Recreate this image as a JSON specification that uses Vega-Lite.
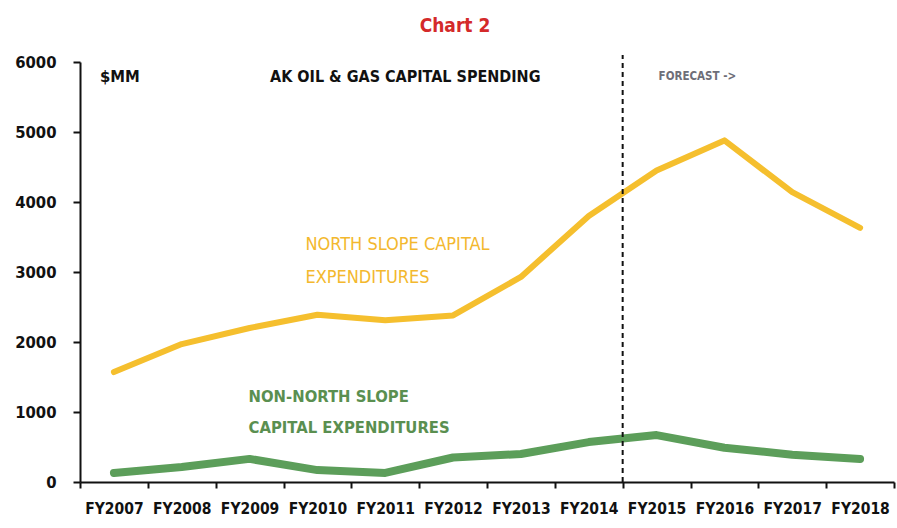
{
  "$schema": "https://vega.github.io/schema/vega-lite/v6.json",
  "width": 814,
  "height": 420,
  "autosize": {"type": "none"},
  "padding": {"left": 80, "top": 62, "right": 3, "bottom": 46},
  "background": "white",
  "title": {
    "text": "Chart 2",
    "color": "#D42A2A",
    "font": "DejaVu Sans Condensed, Roboto Condensed, sans-serif",
    "fontSize": 19,
    "fontWeight": "bold",
    "anchor": "middle",
    "dx": -32,
    "offset": 18
  },
  "config": {
    "view": {"stroke": null},
    "font": "DejaVu Sans Condensed, Roboto Condensed, sans-serif"
  },
  "datasets": {
    "series": [
      {"year": "FY2007", "series": "North Slope", "value": 1570},
      {"year": "FY2008", "series": "North Slope", "value": 1970},
      {"year": "FY2009", "series": "North Slope", "value": 2200},
      {"year": "FY2010", "series": "North Slope", "value": 2390},
      {"year": "FY2011", "series": "North Slope", "value": 2310},
      {"year": "FY2012", "series": "North Slope", "value": 2380},
      {"year": "FY2013", "series": "North Slope", "value": 2930},
      {"year": "FY2014", "series": "North Slope", "value": 3800},
      {"year": "FY2015", "series": "North Slope", "value": 4450},
      {"year": "FY2016", "series": "North Slope", "value": 4880},
      {"year": "FY2017", "series": "North Slope", "value": 4140},
      {"year": "FY2018", "series": "North Slope", "value": 3630},
      {"year": "FY2007", "series": "Non-North Slope", "value": 130},
      {"year": "FY2008", "series": "Non-North Slope", "value": 215},
      {"year": "FY2009", "series": "Non-North Slope", "value": 330},
      {"year": "FY2010", "series": "Non-North Slope", "value": 170},
      {"year": "FY2011", "series": "Non-North Slope", "value": 130},
      {"year": "FY2012", "series": "Non-North Slope", "value": 350},
      {"year": "FY2013", "series": "Non-North Slope", "value": 400},
      {"year": "FY2014", "series": "Non-North Slope", "value": 570},
      {"year": "FY2015", "series": "Non-North Slope", "value": 670},
      {"year": "FY2016", "series": "Non-North Slope", "value": 490},
      {"year": "FY2017", "series": "Non-North Slope", "value": 390},
      {"year": "FY2018", "series": "Non-North Slope", "value": 330}
    ]
  },
  "encoding": {
    "x": {
      "field": "year",
      "type": "nominal",
      "sort": null,
      "scale": {"type": "band", "paddingInner": 0, "paddingOuter": 0,
        "domain": ["FY2007","FY2008","FY2009","FY2010","FY2011","FY2012","FY2013","FY2014","FY2015","FY2016","FY2017","FY2018"]},
      "axis": {
        "title": null,
        "labelAngle": 0,
        "tickBand": "extent",
        "tickExtra": true,
        "domainColor": "#111",
        "domainWidth": 2,
        "tickColor": "#111",
        "tickWidth": 2,
        "tickSize": 6,
        "labelPadding": 13,
        "labelFontWeight": "bold",
        "labelFontSize": 15.5,
        "labelColor": "#111"
      }
    },
    "y": {
      "field": "value",
      "type": "quantitative",
      "scale": {"domain": [0, 6000], "nice": false},
      "axis": {
        "title": null,
        "format": "d",
        "values": [0, 1000, 2000, 3000, 4000, 5000, 6000],
        "grid": false,
        "domainColor": "#111",
        "domainWidth": 2,
        "tickColor": "#111",
        "tickWidth": 2,
        "tickSize": 7,
        "labelPadding": 17,
        "labelFontWeight": "bold",
        "labelFontSize": 16.5,
        "labelColor": "#111"
      }
    }
  },
  "layer": [
    {
      "data": {"name": "series"},
      "mark": {"type": "line", "strokeCap": "round", "strokeJoin": "round"},
      "encoding": {
        "x": {"field": "year", "type": "nominal", "bandPosition": 0.5},
        "color": {
          "field": "series",
          "type": "nominal",
          "scale": {"domain": ["North Slope", "Non-North Slope"], "range": ["#F5BF2E", "#5C9E5A"]},
          "legend": null
        },
        "strokeWidth": {
          "field": "series",
          "type": "nominal",
          "scale": {"domain": ["North Slope", "Non-North Slope"], "range": [6, 8]},
          "legend": null
        }
      }
    },
    {
      "data": {"values": [{"year": "FY2015", "lo": 0, "hi": 6100}]},
      "mark": {"type": "rule", "strokeDash": [5, 4], "strokeWidth": 2, "color": "#111"},
      "encoding": {
        "x": {"field": "year", "type": "nominal", "bandPosition": 0},
        "y": {"field": "lo", "type": "quantitative"},
        "y2": {"field": "hi"}
      }
    },
    {
      "data": {"values": [{"year": "FY2007", "value": 5790, "label": "$MM"}]},
      "mark": {"type": "text", "align": "left", "baseline": "middle", "dx": -14, "fontSize": 16.5, "fontWeight": "bold", "color": "#111"},
      "encoding": {
        "x": {"field": "year", "type": "nominal", "bandPosition": 0.5},
        "text": {"field": "label"}
      }
    },
    {
      "data": {"values": [{"year": "FY2011", "value": 5790, "label": "AK OIL & GAS CAPITAL SPENDING"}]},
      "mark": {"type": "text", "align": "center", "baseline": "middle", "dx": 20, "fontSize": 16, "fontWeight": "bold", "color": "#111"},
      "encoding": {
        "x": {"field": "year", "type": "nominal", "bandPosition": 0.5},
        "text": {"field": "label"}
      }
    },
    {
      "data": {"values": [{"year": "FY2015", "value": 5780, "label": "FORECAST ->"}]},
      "mark": {"type": "text", "align": "left", "baseline": "middle", "dx": 2, "fontSize": 11.5, "fontWeight": "bold", "color": "#6E6E78"},
      "encoding": {
        "x": {"field": "year", "type": "nominal", "bandPosition": 0.5},
        "text": {"field": "label"}
      }
    },
    {
      "data": {"values": [
        {"year": "FY2010", "value": 3390, "label": "NORTH SLOPE CAPITAL"},
        {"year": "FY2010", "value": 2920, "label": "EXPENDITURES"}
      ]},
      "mark": {"type": "text", "align": "left", "baseline": "middle", "dx": -12, "fontSize": 18, "color": "#F3B82E"},
      "encoding": {
        "x": {"field": "year", "type": "nominal", "bandPosition": 0.5},
        "text": {"field": "label"}
      }
    },
    {
      "data": {"values": [
        {"year": "FY2009", "value": 1220, "label": "NON-NORTH SLOPE"},
        {"year": "FY2009", "value": 770, "label": "CAPITAL EXPENDITURES"}
      ]},
      "mark": {"type": "text", "align": "left", "baseline": "middle", "dx": -1, "fontSize": 16.5, "fontWeight": "bold", "color": "#5A8F50"},
      "encoding": {
        "x": {"field": "year", "type": "nominal", "bandPosition": 0.5},
        "text": {"field": "label"}
      }
    }
  ]
}
